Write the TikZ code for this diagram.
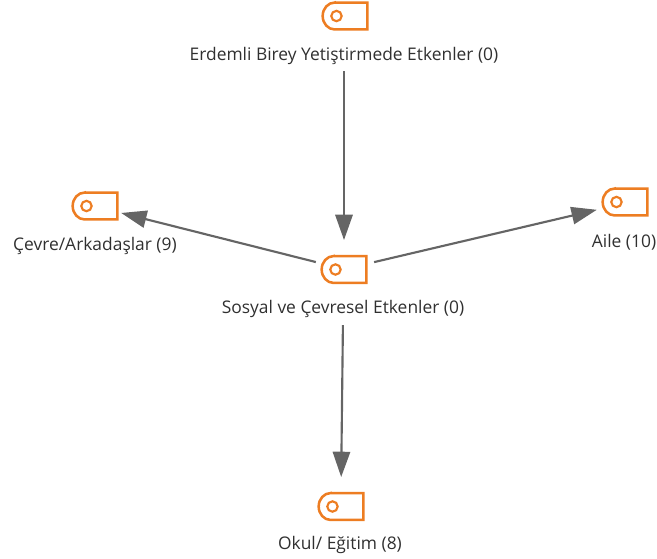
\documentclass[tikz,border=0pt]{standalone}
\usepackage{fontspec}
\setmainfont{Open Sans}
\usetikzlibrary{arrows.meta}
\definecolor{iconorange}{HTML}{ED7D22}
\definecolor{linkgray}{HTML}{656565}
\definecolor{labelgray}{HTML}{303030}
\tikzset{
  iconbox/.style={minimum width=33.5pt,minimum height=20.2pt,inner sep=0pt,outer sep=0pt},
  iconline/.style={draw=iconorange,line width=1.9pt},
  icondot/.style={circle,draw=iconorange,line width=1.6pt,minimum size=7.8pt,inner sep=0pt},
  lab/.style={font=\fontsize{13.05}{15}\selectfont,text=labelgray,inner sep=0pt,outer sep=0pt,text height=9.5pt,text depth=2.8pt},
  link/.style={draw=linkgray,line width=1.6pt,-{Triangle[length=19pt,width=13pt]}}
}
\newcommand{\tagicon}[3]{%
  \node[iconbox] (#1) at (#2,#3) {};
  \draw[iconline,line join=miter] ([xshift=9pt]#1.north west) -- (#1.north east) -- (#1.south east) -- ([xshift=9pt]#1.south west)
     arc[start angle=270,end angle=90,x radius=9pt,y radius=10.1pt] -- cycle;
  \node[icondot] (#1dot) at ([xshift=-6.4pt]#1.center) {};
}
\begin{document}
\begin{tikzpicture}[x=0.75pt,y=-0.75pt]
\useasboundingbox (0,0) rectangle (657,558);
\tagicon{top}{345}{16}
\tagicon{left}{95}{206}
\tagicon{mid}{344}{269.5}
\tagicon{right}{625}{202}
\tagicon{bot}{341}{506.5}
\node[lab] (toplab) at (344,56.5) {Erdemli Birey Yetiştirmede Etkenler (0)};
\node[lab] (leftlab) at (95,246) {Çevre/Arkadaşlar (9)};
\node[lab] (midlab) at (343,309.5) {Sosyal ve Çevresel Etkenler (0)};
\node[lab] (rightlab) at (624,243.5) {Aile (10)};
\node[lab] (botlab) at (340,545.5) {Okul/ Eğitim (8)};
\draw[link,shorten <=5pt,shorten >=12pt] (toplab.south) -- (mid.north);
\draw[link,shorten <=4.5pt,shorten >=3pt] (mid.165) -- (left.-15);
\draw[link,shorten <=6pt,shorten >=4.5pt] (mid.14) -- (right.196);
\draw[link,shorten <=5.5pt,shorten >=12pt] (midlab.south) -- (bot.north);
\end{tikzpicture}
\end{document}
